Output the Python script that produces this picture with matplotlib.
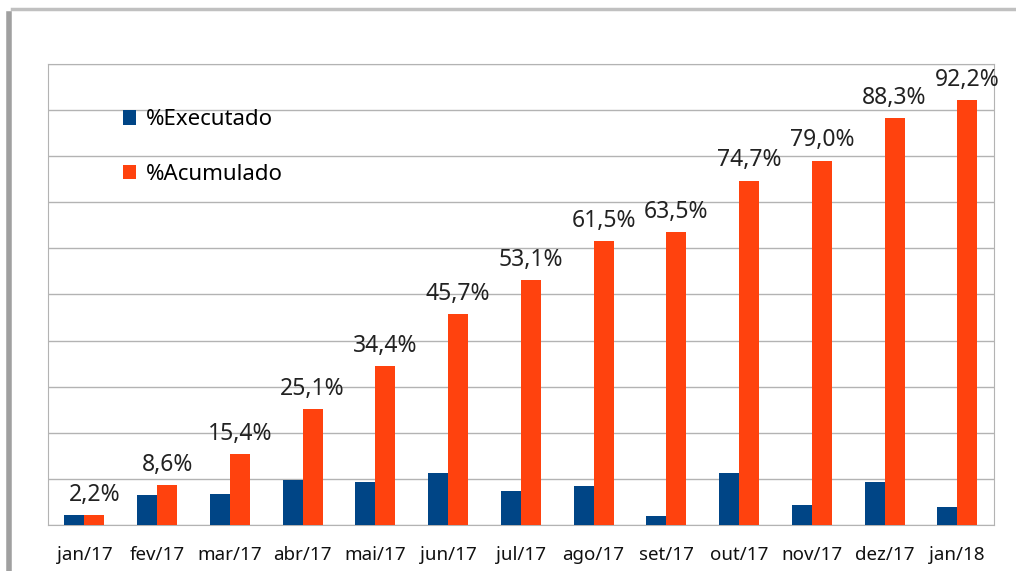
import matplotlib.pyplot as plt
import numpy as np
from matplotlib.lines import Line2D

meses = ['jan/17', 'fev/17', 'mar/17', 'abr/17', 'mai/17', 'jun/17', 'jul/17',
         'ago/17', 'set/17', 'out/17', 'nov/17', 'dez/17', 'jan/18']
executado = [2.2, 6.4, 6.8, 9.7, 9.3, 11.3, 7.4, 8.4, 2.0, 11.2, 4.3, 9.3, 3.9]
acumulado = [2.2, 8.6, 15.4, 25.1, 34.4, 45.7, 53.1, 61.5, 63.5, 74.7, 79.0, 88.3, 92.2]

plt.rcParams['font.family'] = ['Noto Sans', 'DejaVu Sans']

fig = plt.figure(figsize=(10.16, 5.71), dpi=100)
ax = fig.add_axes([0.0472, 0.0806, 0.9308, 0.8074])

x = np.arange(len(meses))
w = 0.275
ax.bar(x - w / 2, executado, w, color='#004586', label='%Executado', zorder=3)
ax.bar(x + w / 2, acumulado, w, color='#ff420e', label='%Acumulado', zorder=3)

for xi, v in zip(x, acumulado):
    ax.annotate(f'{v:.1f}%'.replace('.', ','), (xi + w / 2, v), xytext=(0, 6),
                textcoords='offset points', ha='center', va='bottom',
                fontsize=16.5, color='#222222')

ax.set_xlim(-0.5, len(meses) - 0.5)
ax.set_ylim(0, 100)
ax.set_yticks(np.arange(0, 101, 10))
ax.set_yticklabels([])
ax.set_xticks(x)
ax.set_xticklabels(meses, fontsize=13.5, color='#111111')
ax.tick_params(axis='both', length=0, pad=15)
ax.grid(axis='y', color='#b3b3b3', linewidth=1, zorder=0)
for s in ax.spines.values():
    s.set_color('#b3b3b3')

ax.legend(loc='upper left', bbox_to_anchor=(0.058, 0.945), frameon=False,
          fontsize=16, handlelength=0.6, handleheight=0.6, labelspacing=1.5,
          handletextpad=0.45)

# moldura cinza em volta
fig.add_artist(Line2D([0.012, 1.0], [0.985, 0.985], color='#c0c0c0', lw=2.5,
                      transform=fig.transFigure))
fig.add_artist(Line2D([0.009, 0.009], [0.975, 0.0], color='#a0a0a0', lw=4,
                      transform=fig.transFigure))

fig.savefig('out.png', dpi=100)
